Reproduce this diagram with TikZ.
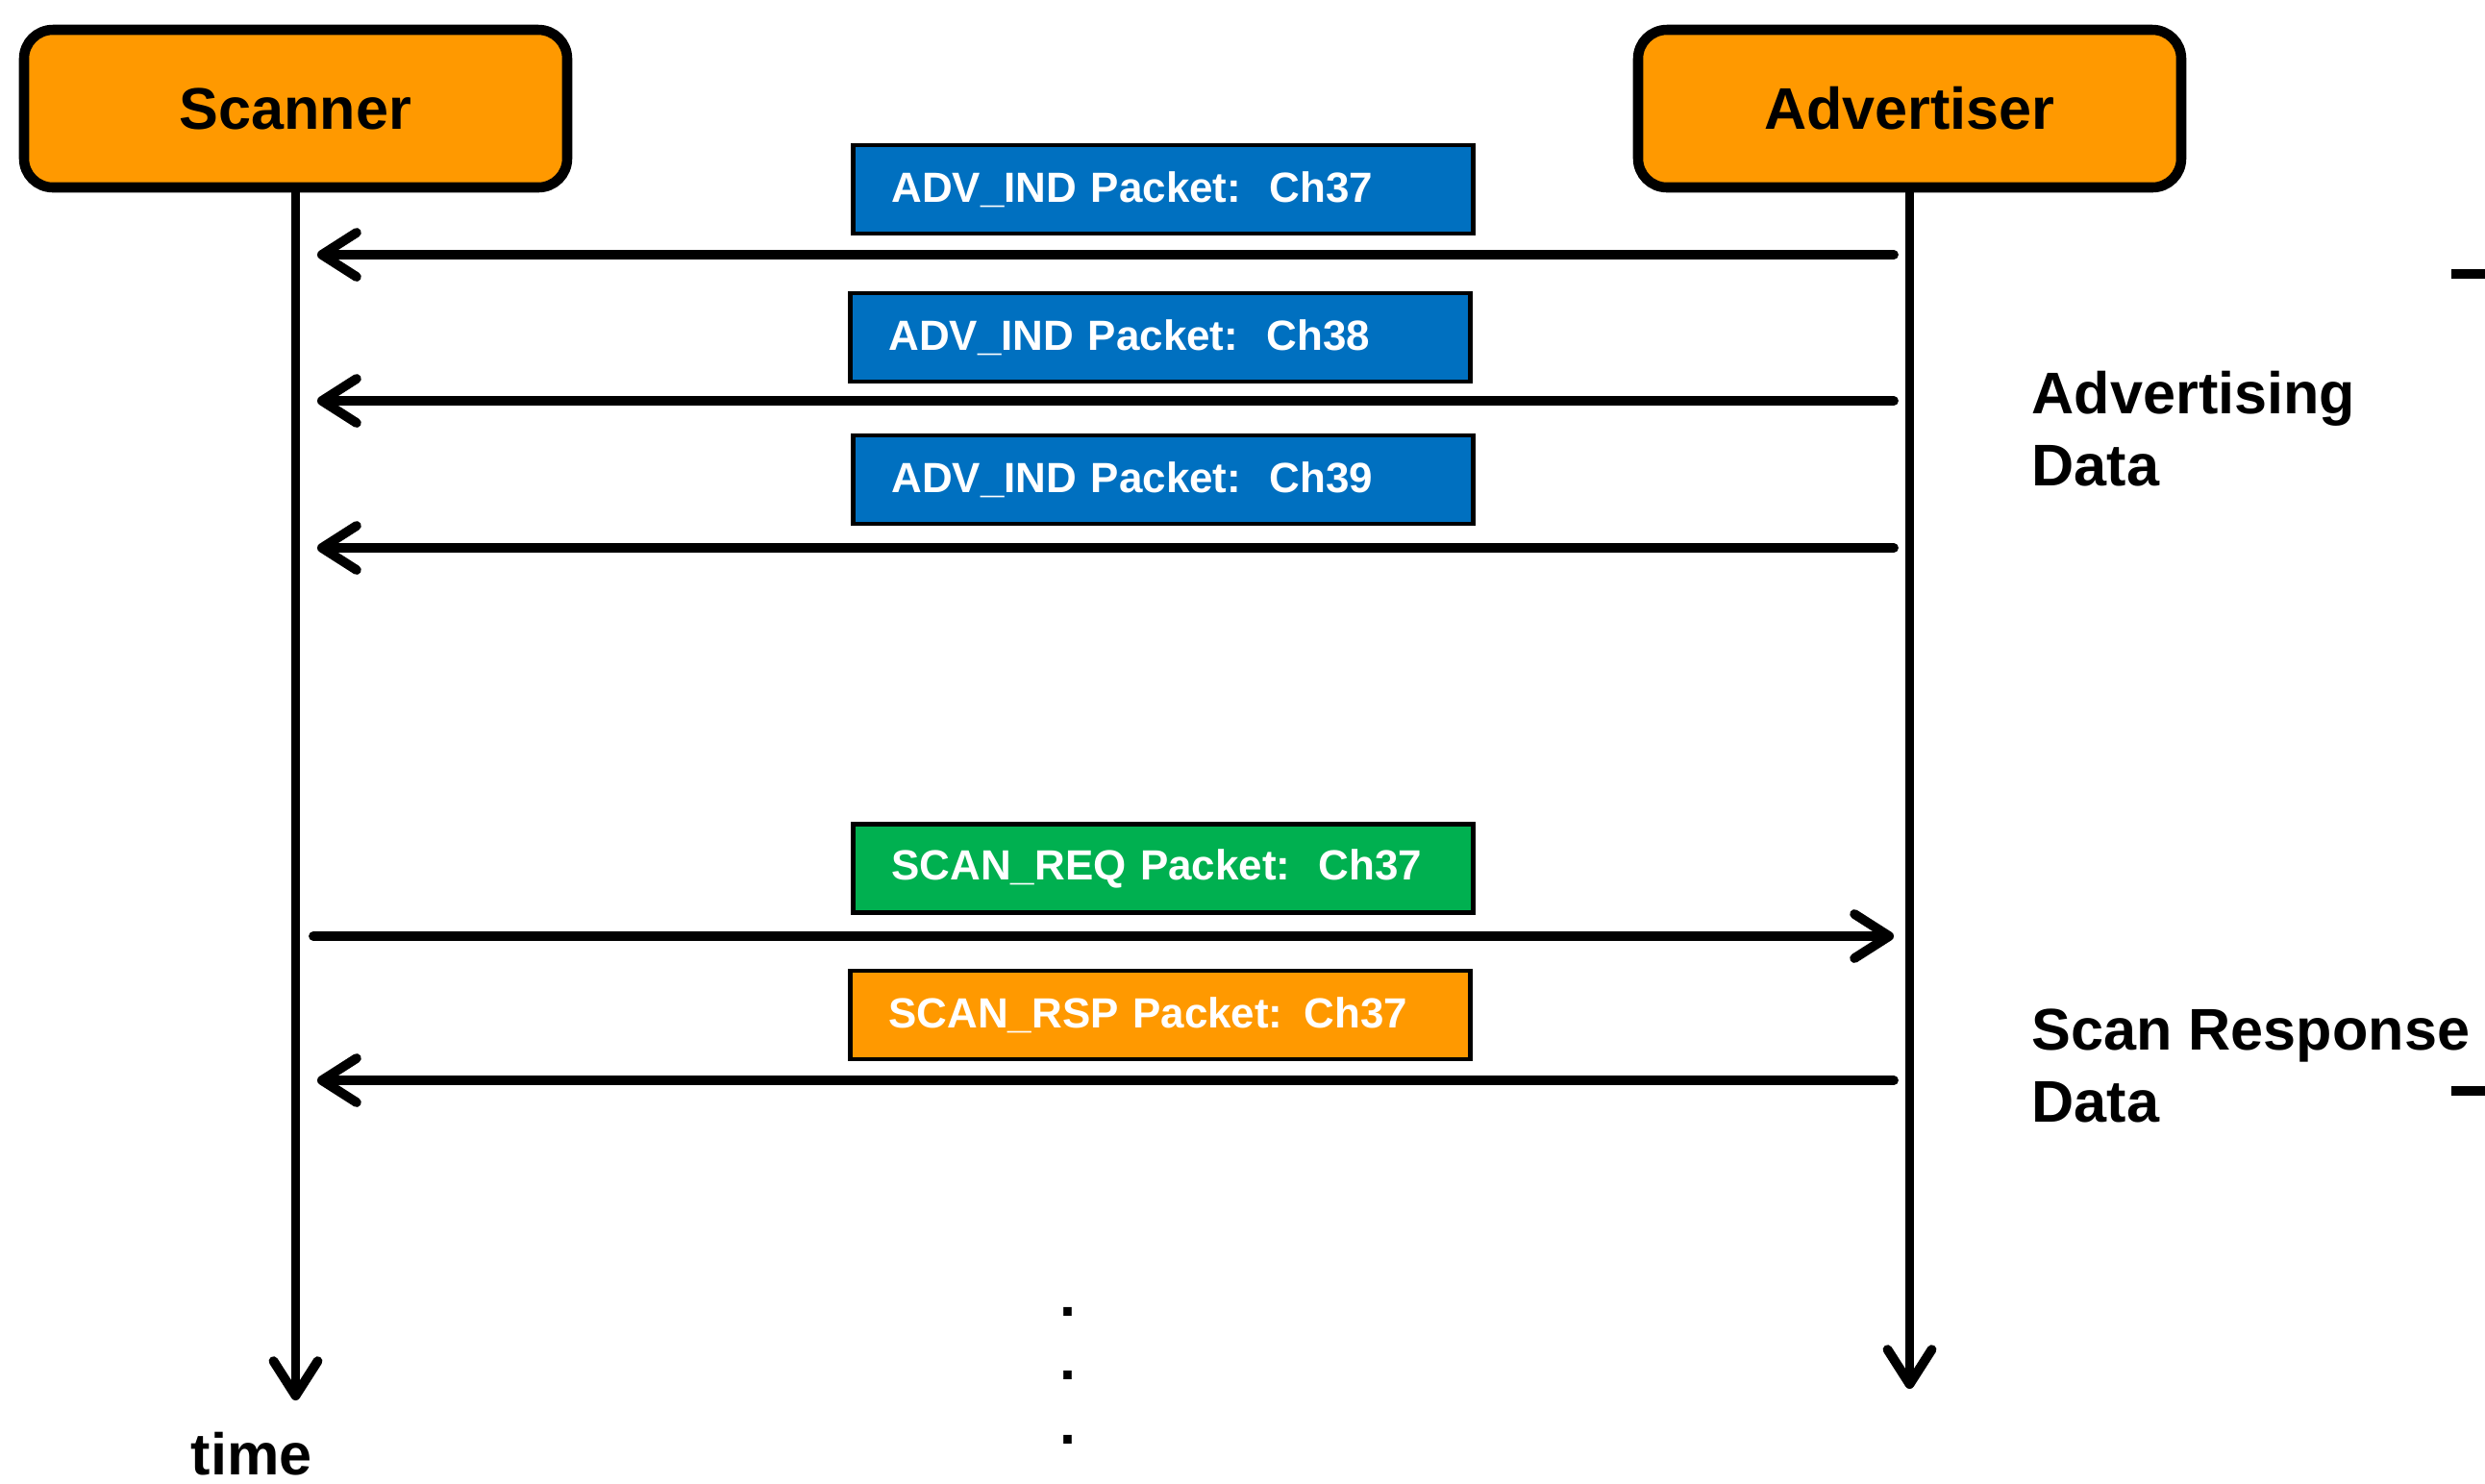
\documentclass[tikz,border=0pt]{standalone}
\usepackage{fontspec}
\setmainfont{Liberation Sans}
\usetikzlibrary{arrows.meta}
\definecolor{orng}{HTML}{FF9900}
\definecolor{pblue}{HTML}{0070C0}
\definecolor{pgreen}{HTML}{00B050}
\begin{document}
\begin{tikzpicture}[
  actor/.style={draw=black, line width=3pt, fill=orng, rounded corners=0.3cm,
    minimum width=5.65cm, minimum height=1.64cm,
    font=\bfseries\fontsize{17.4}{21}\selectfont},
  pkt/.style={draw=black, line width=1.4pt, text=white,
    font=\bfseries\fontsize{12.5}{15}\selectfont,
    text width=5.65cm, inner xsep=0.4cm, minimum height=0.92cm, align=left},
  msg/.style={line width=2.8pt, line cap=round,
    -{Straight Barb[length=0.36cm,width=0.46cm,line cap=round,line join=round]}},
  lbl/.style={font=\bfseries\fontsize{17.4}{21.3}\selectfont, align=left, inner sep=0pt}
]
\useasboundingbox (0,0) rectangle (25.85,-15.43);

% actors
\node[actor] (scn) at (3.075,-1.13) {Scanner};
\node[actor] (adv) at (19.865,-1.13) {Advertiser};

% lifelines
\coordinate (scnend) at (3.075,-14.57);
\coordinate (advend) at (19.865,-14.45);
\draw[msg] (scn.south) -- (scnend);
\draw[msg] (adv.south) -- (advend);

% packets
\node[pkt, fill=pblue] (p1) at (12.10,-1.97) {ADV\_IND Packet:\ \ Ch37};
\node[pkt, fill=pblue] (p2) at (12.07,-3.51) {ADV\_IND Packet:\ \ Ch38};
\node[pkt, fill=pblue] (p3) at (12.10,-4.99) {ADV\_IND Packet:\ \ Ch39};
\node[pkt, fill=pgreen] (p4) at (12.10,-9.035) {SCAN\_REQ Packet:\ \ Ch37};
\node[pkt, fill=orng] (p5) at (12.07,-10.56) {SCAN\_RSP Packet: Ch37};

% messages
\coordinate (a1) at (19.70,-2.65);  \coordinate (s1) at (3.30,-2.65);
\coordinate (a2) at (19.70,-4.17);  \coordinate (s2) at (3.30,-4.17);
\coordinate (a3) at (19.70,-5.70);  \coordinate (s3) at (3.30,-5.70);
\coordinate (s4) at (3.26,-9.74);   \coordinate (a4) at (19.70,-9.74);
\coordinate (a5) at (19.70,-11.24); \coordinate (s5) at (3.30,-11.24);
\draw[msg] (a1) -- (s1);
\draw[msg] (a2) -- (s2);
\draw[msg] (a3) -- (s3);
\draw[msg] (s4) -- (a4);
\draw[msg] (a5) -- (s5);

% labels (base anchor = baseline of last line)
\node[lbl, anchor=base west] (advdata) at (21.13,-5.05) {Advertising\\Data};
\node[lbl, anchor=base west] (rspdata) at (21.13,-11.67) {Scan Response\\Data};
\node[lbl, anchor=base west] (time) at (1.98,-15.34) {time};
\node[font=\bfseries\fontsize{17.4}{18.9}\selectfont, align=center, anchor=base, inner sep=0pt] (dots) at (11.11,-15.02) {.\\.\\.};

% cut-off brace stubs at right edge
\draw[line width=2.8pt] (25.50,-2.85) -- (25.85,-2.85);
\draw[line width=2.8pt] (25.50,-11.35) -- (25.85,-11.35);
\end{tikzpicture}
\end{document}
